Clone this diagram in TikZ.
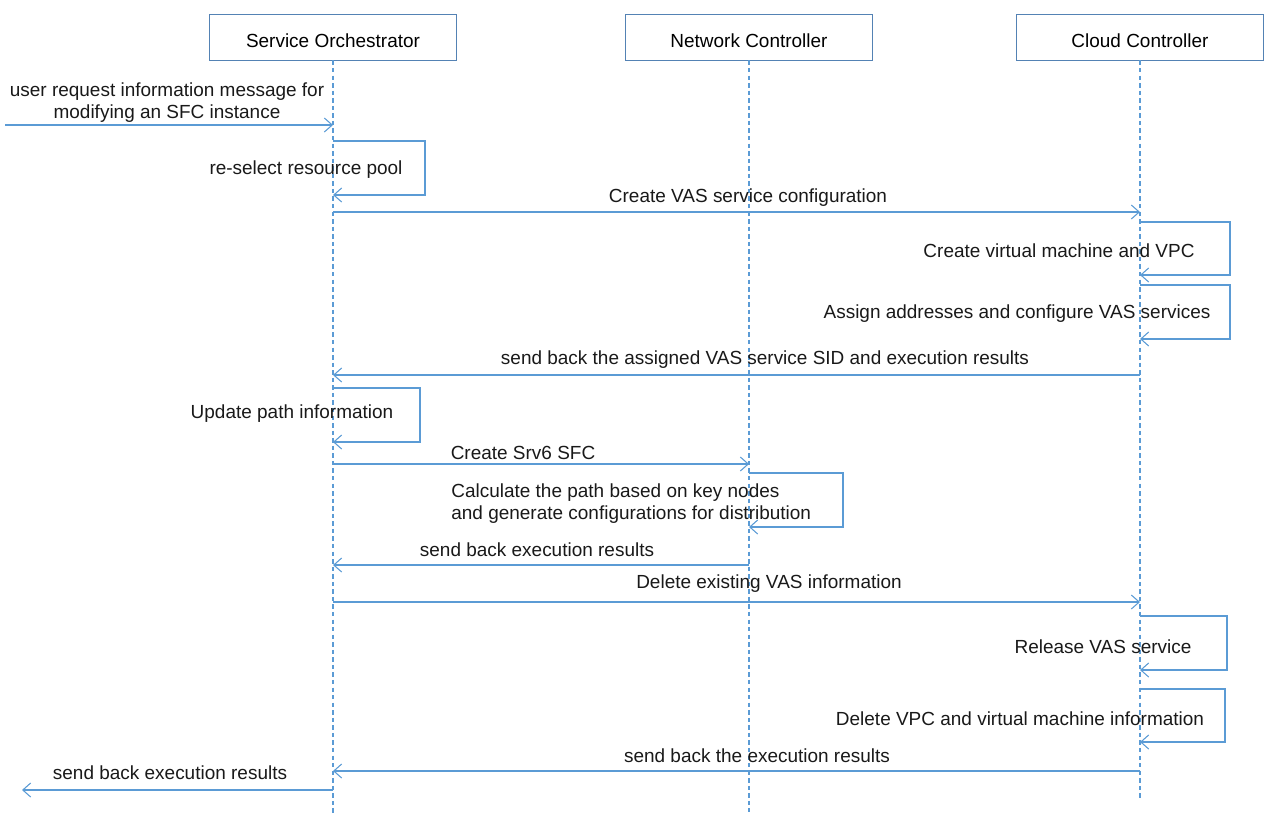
\documentclass[tikz,border=0pt]{standalone}
\usepackage{fontspec}
\setmainfont{Liberation Sans}
\usetikzlibrary{arrows.meta}
\definecolor{msgblue}{RGB}{91,155,213}
\definecolor{boxblue}{RGB}{84,130,180}

\begin{document}
\begin{tikzpicture}[x=0.02cm,y=-0.02cm,font=\fontsize{10.8}{12.6}\selectfont]
\tikzstyle{actor}=[draw=boxblue,line width=0.55pt,minimum width=4.94cm,minimum height=0.92cm,inner sep=0pt,text height=12.5pt,text depth=0pt]
\tikzstyle{life}=[draw=msgblue,line width=0.6pt,dash pattern=on 2.5pt off 1.8pt]
\tikzstyle{msg}=[draw=msgblue,line width=0.6pt,-{Straight Barb[length=4.5pt,width=8pt]}]
\tikzstyle{txt}=[inner sep=0pt,text=black!90,yshift=-1.7pt]
\useasboundingbox (0,0) rectangle (1264,815);
    \node[actor] (so) at (333,37) {Service Orchestrator};
    \node[actor] (nc) at (749,37) {Network Controller};
    \node[actor] (cc) at (1140,37) {Cloud Controller};
    \coordinate (soend) at (333,815);
    \coordinate (ncend) at (749,812);
    \coordinate (ccend) at (1140,800);
    \path (so.south) edge [life] (soend);
    \path (nc.south) edge [life] (ncend);
    \path (cc.south) edge [life] (ccend);
    \coordinate (user) at (5,125);
    \coordinate (back) at (22,790);
    \path (user) edge [msg] (so |- user);
    \node[txt,align=center] (t1) at (167,100) {user request information message for\\modifying an SFC instance};
    \draw[msg] (so |- 0,141) -- ++(92,0) |- (so |- 0,195);
    \node[txt] (t2) at (306,167) {re-select resource pool};
    \path (so |- 0,212) edge [msg] (cc |- 0,212);
    \node[txt] (t3) at (748,195) {Create VAS service configuration};
    \draw[msg] (cc |- 0,222) -- ++(90,0) |- (cc |- 0,275);
    \node[txt] (t4) at (1059,248) {Create virtual machine and VPC};
    \draw[msg] (cc |- 0,285) -- ++(90,0) |- (cc |- 0,339);
    \node[txt] (t5) at (1017,311) {Assign addresses and configure VAS services};
    \path (cc |- 0,375) edge [msg] (so |- 0,375);
    \node[txt] (t6) at (765,357) {send back the assigned VAS service SID and execution results};
    \draw[msg] (so |- 0,388) -- ++(87,0) |- (so |- 0,442);
    \node[txt] (t7) at (292,411) {Update path information};
    \path (so |- 0,464) edge [msg] (nc |- 0,464);
    \node[txt] (t8) at (523,450) {Create Srv6 SFC};
    \draw[msg] (nc |- 0,473) -- ++(94,0) |- (nc |- 0,527);
    \node[txt,align=left,anchor=west] (t9) at (451,501) {Calculate the path based on key nodes\\and generate configurations for distribution};
    \path (nc |- 0,565) edge [msg] (so |- 0,565);
    \node[txt] (t10) at (537,547) {send back execution results};
    \path (so |- 0,602) edge [msg] (cc |- 0,602);
    \node[txt] (t11) at (769,581) {Delete existing VAS information};
    \draw[msg] (cc |- 0,616) -- ++(87,0) |- (cc |- 0,670);
    \node[txt] (t12) at (1103,644) {Release VAS service};
    \draw[msg] (cc |- 0,689) -- ++(85,0) |- (cc |- 0,742);
    \node[txt] (t13) at (1020,716) {Delete VPC and virtual machine information};
    \path (cc |- 0,771) edge [msg] (so |- 0,771);
    \node[txt] (t14) at (757,753) {send back the execution results};
    \path (so |- back) edge [msg] (back);
    \node[txt] (t15) at (170,770) {send back execution results};
\end{tikzpicture}
\end{document}
